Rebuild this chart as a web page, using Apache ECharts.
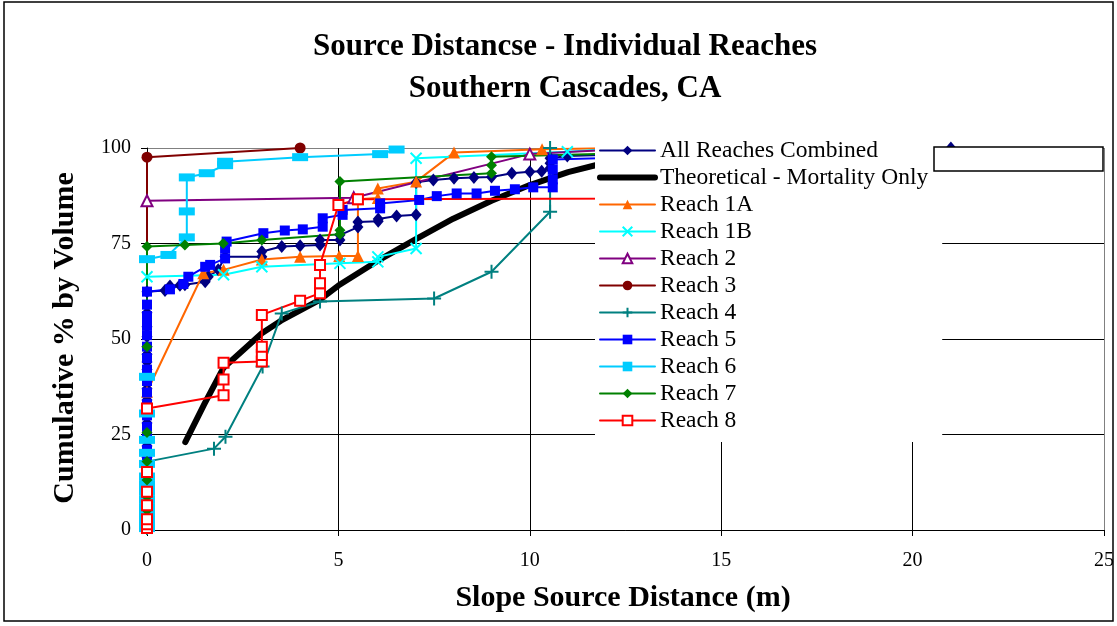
<!DOCTYPE html>
<html>
<head>
<meta charset="utf-8">
<script src="https://cdn.jsdelivr.net/npm/echarts@6/dist/echarts.min.js"></script>
<style>
  html, body { margin: 0; padding: 0; background: #fff; }
  #chart { width: 1117px; height: 626px; }
</style>
</head>
<body>
<div id="chart"></div>
<script>
// Text
const titleLines = ['Source Distancse - Individual Reaches', 'Southern Cascades, CA'];
const xTitle = 'Slope Source Distance (m)';
const yTitle = 'Cumulative % by Volume';
const seriesNames = ['All Reaches Combined', 'Theoretical - Mortality Only', 'Reach 1A', 'Reach 1B',
  'Reach 2', 'Reach 3', 'Reach 4', 'Reach 5', 'Reach 6', 'Reach 7', 'Reach 8'];

// Axis ranges
const xRange = [0, 25, 5];
const yRange = [0, 100, 25];

// Cumulative curves: [slope source distance (m), cumulative % by volume]
const allReaches = [
  [0,0.5],[0,1.5],[0,3],[0,5],[0,7],[0,9],[0,11],[0,13],[0,16],[0,19],[0,22],[0,25],[0,28],[0,31],
  [0,34],[0,37],[0,40],[0,42],[0,44],[0,46],[0,48],[0,50.6],[0,53.2],[0,56.9],[0,62.4],
  [0.47,62.7],[0.6,63.9],[0.86,64.1],[0.99,64.2],[1.52,65.0],[1.6,66.3],[1.86,68.1],[2.04,71.5],
  [3.0,71.5],[3.0,72.9],[3.52,74.2],[4.0,74.4],[4.52,74.6],[4.52,75.9],[5.04,75.9],[5.04,77.2],
  [5.51,79.3],[5.51,80.6],[6.04,80.8],[6.04,81.4],[6.52,82.2],[7.03,82.5],[7.03,91.0],[7.48,91.6],
  [8.02,92.1],[8.54,92.3],[9.0,92.4],[9.53,93.4],[10.0,93.8],[10.31,93.9],[10.53,94.7],[10.53,96.0],
  [10.53,97.3],[10.98,97.9],[13,98.5],[16,99.2],[21,100]
];
const theoretical = [
  [1,23],[1.5,33],[2,42.5],[2.5,47],[3,51.5],[3.5,54.8],[4,57.5],[4.5,60.2],[5,64],[6,70.3],
  [7,76],[8,81.5],[9,86.2],[10,90.3],[11,93.7],[12,96.2],[13,97.8],[14,98.8],[16,99.6],[18,99.9],[20.3,100]
];
const reach1A = [
  [0,1],[0,36.2],[1.47,67.2],[2.0,68.1],[3.0,70.8],[4.0,71.5],[5.02,71.7],[5.51,71.7],[5.51,86.6],
  [6.03,86.9],[6.03,89.4],[7.03,91.2],[8.02,98.8],[10.32,99.7],[12.5,100]
];
const reach1B = [
  [0,0.5],[0,66.3],[2.0,66.8],[3.0,68.9],[5.04,69.8],[6.03,70.2],[6.03,71.5],[7.03,73.7],[7.03,97.3],
  [10.98,99.0],[12.5,100]
];
const reach2 = [[0,86.2],[5.4,87.0],[10.0,98.4],[13,100]];
const reach3 = [[0,0.5],[0,97.6],[4.0,100]];
const reach4 = [
  [0,0.5],[0,17.9],[1.75,21.3],[2.05,24.4],[3.02,42.8],[3.52,56.7],[4.52,59.8],[7.5,60.6],
  [9.0,67.6],[10.53,83.3],[10.53,100]
];
const reach5 = [
  [0,1],[0,3],[0,6],[0,9],[0,12],[0,15],[0,18],[0,21],[0,24],[0,27],[0,30],[0,33],[0,36],[0,39],
  [0,42],[0,45],[0,48],[0,51],[0,53.5],[0,56],[0,59],[0,62.4],
  [0.6,63],[0.95,64.4],[1.08,66.3],[1.52,68.9],[1.65,69.4],[2.04,71.1],[2.04,73.7],[2.08,75.5],
  [3.04,77.7],[3.6,78.4],[4.07,78.7],[4.59,79.4],[4.59,81.6],[5.11,82.5],[5.11,83.8],[6.09,84.2],
  [6.09,85.5],[7.11,86.4],[7.57,87.4],[8.09,88.1],[8.61,88.1],[9.09,88.8],[9.61,89.2],[10.09,89.7],
  [10.6,89.7],[10.6,91.8],[10.6,94.4],[10.6,97.0],[12.5,97.5],[14,100]
];
const reach6 = [
  [0,0.5],[0,1.5],[0,3],[0,4.5],[0,6],[0,8],[0,10],[0,12],[0,14],[0,17.3],[0,20.2],[0,23.6],
  [0,30.5],[0,40.1],[0,70.9],[0.56,72.0],[1.04,76.6],[1.04,83.4],[1.04,92.3],[1.56,93.4],
  [2.04,95.5],[2.04,96.4],[4.0,97.6],[6.09,98.4],[6.52,99.6]
];
const reach7 = [
  [0,0.5],[0,2],[0,3.5],[0,5.2],[0,8.7],[0,13.1],[0,17.9],[0,25.5],[0,48],[0,74.2],[0.99,74.6],
  [1.99,75.0],[3.0,75.9],[5.04,77.4],[5.04,78.5],[5.04,91.2],[9.0,93.4],[9.0,95.5],[9.0,97.7],
  [12.5,98.6],[14,100]
];
const reach8 = [
  [0,0.5],[0,1.5],[0,2.8],[0,6.5],[0,10],[0,15.2],[0,31.8],[2.0,35.3],[2.0,39.4],[2.0,43.8],
  [3.0,44.1],[3.0,45.8],[3.0,48.0],[3.0,56.3],[4.0,60.0],[4.52,62.0],[4.52,64.6],[4.52,69.4],
  [5.0,85.1],[5.51,86.6],[13,86.8],[13.5,100]
];

const serif = 'Liberation Serif';
const xMarkPath = 'path://M0,0L10,10M10,0L0,10';
const plusMarkPath = 'path://M5,0L5,10M0,5L10,5';

// Per-series look: colour, marker, marker size, marker kind
const looks = [
  { data: allReaches, color: '#000080', symbol: 'diamond', size: [11, 13], kind: 'fill' },
  { data: theoretical, color: '#000000', symbol: 'none', size: 0, kind: 'none', width: 6 },
  { data: reach1A, color: '#FF6600', symbol: 'triangle', size: 12, kind: 'fill' },
  { data: reach1B, color: '#00FFFF', symbol: xMarkPath, size: 11, kind: 'stroke' },
  { data: reach2, color: '#800080', symbol: 'triangle', size: 11, kind: 'open' },
  { data: reach3, color: '#800000', symbol: 'circle', size: 11, kind: 'fill' },
  { data: reach4, color: '#008080', symbol: plusMarkPath, size: 14, kind: 'stroke' },
  { data: reach5, color: '#0000FF', symbol: 'rect', size: 10, kind: 'fill' },
  { data: reach6, color: '#00CCFF', symbol: 'rect', size: [16, 8], kind: 'fill' },
  { data: reach7, color: '#008000', symbol: 'diamond', size: 11, kind: 'fill' },
  { data: reach8, color: '#FF0000', symbol: 'rect', size: 10, kind: 'open' }
];

function markerStyle(look) {
  if (look.kind === 'open') return { color: '#ffffff', borderColor: look.color, borderWidth: 2 };
  if (look.kind === 'stroke') return { color: look.color, borderColor: look.color, borderWidth: 2 };
  return { color: look.color, borderWidth: 0 };
}

const series = looks.map((look, i) => ({
  name: seriesNames[i],
  type: 'line',
  data: look.data,
  symbol: look.symbol,
  symbolSize: look.size,
  showSymbol: look.symbol !== 'none',
  clip: false,
  animation: false,
  lineStyle: { color: look.color, width: look.width || 2, cap: 'round', join: 'round' },
  itemStyle: markerStyle(look),
  emphasis: { disabled: true }
}));

const legendData = looks.map((look, i) => ({
  name: seriesNames[i],
  lineStyle: { color: look.color, width: look.width || 2 },
  itemStyle: look.kind === 'none' ? { color: look.color, opacity: 0 } : markerStyle(look)
}));

const chart = echarts.init(document.getElementById('chart'), null, { renderer: 'canvas' });
chart.setOption({
  backgroundColor: '#ffffff',
  animation: false,
  grid: { left: 147, right: 13, top: 148, bottom: 96, containLabel: false },
  xAxis: {
    type: 'value', min: xRange[0], max: xRange[1], interval: xRange[2],
    axisLine: { show: true, onZero: false, lineStyle: { color: '#000', width: 1 } },
    axisTick: { show: true, length: 6, lineStyle: { color: '#000' } },
    axisLabel: { margin: 21, fontFamily: serif, fontSize: 20, color: '#000' },
    splitLine: { show: true, lineStyle: { color: ['#000', '#000', '#000', '#000', '#000', '#808080'], width: 1 } }
  },
  yAxis: {
    type: 'value', min: yRange[0], max: yRange[1], interval: yRange[2],
    axisLine: { show: true, onZero: false, lineStyle: { color: '#000', width: 1 } },
    axisTick: { show: true, length: 6, lineStyle: { color: '#000' } },
    axisLabel: { margin: 16, fontFamily: serif, fontSize: 20, color: '#000' },
    splitLine: { show: true, lineStyle: { color: ['#000', '#000', '#000', '#000', '#808080'], width: 1 } }
  },
  legend: {
    orient: 'vertical',
    left: 595, top: 134,
    padding: [3, 14, 8, 2],
    itemGap: 0,
    itemWidth: 55,
    itemHeight: 12,
    backgroundColor: '#ffffff',
    selectedMode: false,
    textStyle: { fontFamily: serif, fontSize: 23.5, color: '#000', lineHeight: 27 },
    data: legendData
  },
  graphic: [
    { type: 'rect', z: 100, shape: { x: 4, y: 2, width: 1109, height: 619 },
      style: { fill: 'none', stroke: '#000', lineWidth: 1.5 } },
    { type: 'rect', z: 100, shape: { x: 934, y: 147, width: 169, height: 24 },
      style: { fill: '#fff', stroke: '#000', lineWidth: 1.5 } },
    { type: 'text', z: 100, x: 565, y: 47,
      style: { text: titleLines[0], font: 'bold 31px "Liberation Serif"', fill: '#000', align: 'center', verticalAlign: 'middle' } },
    { type: 'text', z: 100, x: 565, y: 89,
      style: { text: titleLines[1], font: 'bold 31px "Liberation Serif"', fill: '#000', align: 'center', verticalAlign: 'middle' } },
    { type: 'text', z: 100, x: 623, y: 598,
      style: { text: xTitle, font: 'bold 30px "Liberation Serif"', fill: '#000', align: 'center', verticalAlign: 'middle' } },
    { type: 'text', z: 100, x: 65, y: 338, rotation: Math.PI / 2,
      style: { text: yTitle, font: 'bold 30px "Liberation Serif"', fill: '#000', align: 'center', verticalAlign: 'middle' } }
  ],
  series: series
});
</script>
</body>
</html>
